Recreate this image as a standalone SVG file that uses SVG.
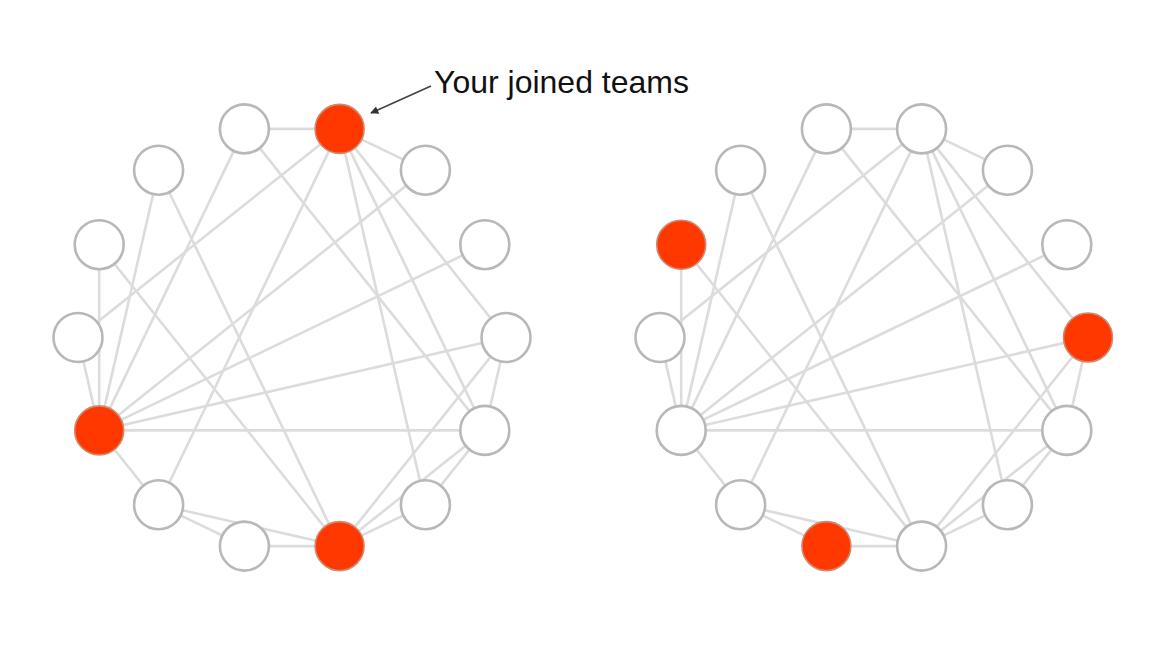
<svg xmlns="http://www.w3.org/2000/svg" width="1170" height="658" viewBox="0 0 1170 658">
<style>
.e{stroke:#dcdcdc;stroke-width:2.6;fill:none}
.n{fill:#ffffff;stroke:#b8b8b8;stroke-width:2.6}
.r{fill:#ff3800;stroke:#cf8a72;stroke-width:1.6}
.lbl{font-family:"Liberation Sans",Arial,sans-serif;font-size:32px;fill:#111}
.arr{stroke:#444;stroke-width:1.7;fill:none}
</style>
<defs>
<marker id="ah" viewBox="0 0 10 10" refX="9" refY="5" markerWidth="9" markerHeight="8" orient="auto" markerUnits="userSpaceOnUse">
<path d="M0,0 L10,5 L0,10 z" fill="#333"/>
</marker>
</defs>
<rect width="1170" height="658" fill="#ffffff"/>
<g id="connectors">
<g id="edges-left">
<line class="e" x1="244.4" y1="128.9" x2="339.6" y2="128.9"/>
<line class="e" x1="339.6" y1="128.9" x2="425.4" y2="170.2"/>
<line class="e" x1="244.4" y1="128.9" x2="99.2" y2="430.4"/>
<line class="e" x1="244.4" y1="128.9" x2="484.8" y2="430.4"/>
<line class="e" x1="339.6" y1="128.9" x2="78" y2="337.5"/>
<line class="e" x1="339.6" y1="128.9" x2="158.6" y2="504.8"/>
<line class="e" x1="339.6" y1="128.9" x2="425.4" y2="504.8"/>
<line class="e" x1="339.6" y1="128.9" x2="484.8" y2="430.4"/>
<line class="e" x1="339.6" y1="128.9" x2="506" y2="337.5"/>
<line class="e" x1="425.4" y1="170.2" x2="99.2" y2="430.4"/>
<line class="e" x1="484.8" y1="244.7" x2="99.2" y2="430.4"/>
<line class="e" x1="506" y1="337.5" x2="99.2" y2="430.4"/>
<line class="e" x1="484.8" y1="430.4" x2="99.2" y2="430.4"/>
<line class="e" x1="506" y1="337.5" x2="484.8" y2="430.4"/>
<line class="e" x1="506" y1="337.5" x2="339.6" y2="546.1"/>
<line class="e" x1="484.8" y1="430.4" x2="425.4" y2="504.8"/>
<line class="e" x1="484.8" y1="430.4" x2="339.6" y2="546.1"/>
<line class="e" x1="425.4" y1="504.8" x2="339.6" y2="546.1"/>
<line class="e" x1="339.6" y1="546.1" x2="244.4" y2="546.1"/>
<line class="e" x1="339.6" y1="546.1" x2="158.6" y2="504.8"/>
<line class="e" x1="339.6" y1="546.1" x2="99.2" y2="244.7"/>
<line class="e" x1="339.6" y1="546.1" x2="158.6" y2="170.2"/>
<line class="e" x1="244.4" y1="546.1" x2="158.6" y2="504.8"/>
<line class="e" x1="158.6" y1="504.8" x2="99.2" y2="430.4"/>
<line class="e" x1="99.2" y1="430.4" x2="78" y2="337.5"/>
<line class="e" x1="99.2" y1="430.4" x2="99.2" y2="244.7"/>
<line class="e" x1="99.2" y1="430.4" x2="158.6" y2="170.2"/>
</g>
<g id="edges-right">
<line class="e" x1="826.4" y1="128.9" x2="921.6" y2="128.9"/>
<line class="e" x1="921.6" y1="128.9" x2="1007.4" y2="170.2"/>
<line class="e" x1="826.4" y1="128.9" x2="681.2" y2="430.4"/>
<line class="e" x1="826.4" y1="128.9" x2="1066.8" y2="430.4"/>
<line class="e" x1="921.6" y1="128.9" x2="660" y2="337.5"/>
<line class="e" x1="921.6" y1="128.9" x2="740.6" y2="504.8"/>
<line class="e" x1="921.6" y1="128.9" x2="1007.4" y2="504.8"/>
<line class="e" x1="921.6" y1="128.9" x2="1066.8" y2="430.4"/>
<line class="e" x1="921.6" y1="128.9" x2="1088" y2="337.5"/>
<line class="e" x1="1007.4" y1="170.2" x2="681.2" y2="430.4"/>
<line class="e" x1="1066.8" y1="244.7" x2="681.2" y2="430.4"/>
<line class="e" x1="1088" y1="337.5" x2="681.2" y2="430.4"/>
<line class="e" x1="1066.8" y1="430.4" x2="681.2" y2="430.4"/>
<line class="e" x1="1088" y1="337.5" x2="1066.8" y2="430.4"/>
<line class="e" x1="1088" y1="337.5" x2="921.6" y2="546.1"/>
<line class="e" x1="1066.8" y1="430.4" x2="1007.4" y2="504.8"/>
<line class="e" x1="1066.8" y1="430.4" x2="921.6" y2="546.1"/>
<line class="e" x1="1007.4" y1="504.8" x2="921.6" y2="546.1"/>
<line class="e" x1="921.6" y1="546.1" x2="826.4" y2="546.1"/>
<line class="e" x1="921.6" y1="546.1" x2="740.6" y2="504.8"/>
<line class="e" x1="921.6" y1="546.1" x2="681.2" y2="244.7"/>
<line class="e" x1="921.6" y1="546.1" x2="740.6" y2="170.2"/>
<line class="e" x1="826.4" y1="546.1" x2="740.6" y2="504.8"/>
<line class="e" x1="740.6" y1="504.8" x2="681.2" y2="430.4"/>
<line class="e" x1="681.2" y1="430.4" x2="660" y2="337.5"/>
<line class="e" x1="681.2" y1="430.4" x2="681.2" y2="244.7"/>
<line class="e" x1="681.2" y1="430.4" x2="740.6" y2="170.2"/>
</g>
<line id="callout-arrow" class="arr" x1="431" y1="86" x2="371" y2="113" marker-end="url(#ah)"/>
</g>
<g id="left-graph">
<g id="L1"><circle class="n" cx="244.4" cy="128.9" r="24.5"/></g>
<g id="L2"><circle class="r" cx="339.6" cy="128.9" r="24.5"/></g>
<g id="L3"><circle class="n" cx="425.4" cy="170.2" r="24.5"/></g>
<g id="L4"><circle class="n" cx="484.8" cy="244.7" r="24.5"/></g>
<g id="L5"><circle class="n" cx="506" cy="337.5" r="24.5"/></g>
<g id="L6"><circle class="n" cx="484.8" cy="430.4" r="24.5"/></g>
<g id="L7"><circle class="n" cx="425.4" cy="504.8" r="24.5"/></g>
<g id="L8"><circle class="r" cx="339.6" cy="546.1" r="24.5"/></g>
<g id="L9"><circle class="n" cx="244.4" cy="546.1" r="24.5"/></g>
<g id="L10"><circle class="n" cx="158.6" cy="504.8" r="24.5"/></g>
<g id="L11"><circle class="r" cx="99.2" cy="430.4" r="24.5"/></g>
<g id="L12"><circle class="n" cx="78" cy="337.5" r="24.5"/></g>
<g id="L13"><circle class="n" cx="99.2" cy="244.7" r="24.5"/></g>
<g id="L14"><circle class="n" cx="158.6" cy="170.2" r="24.5"/></g>
</g>
<g id="right-graph">
<g id="R1"><circle class="n" cx="826.4" cy="128.9" r="24.5"/></g>
<g id="R2"><circle class="n" cx="921.6" cy="128.9" r="24.5"/></g>
<g id="R3"><circle class="n" cx="1007.4" cy="170.2" r="24.5"/></g>
<g id="R4"><circle class="n" cx="1066.8" cy="244.7" r="24.5"/></g>
<g id="R5"><circle class="r" cx="1088" cy="337.5" r="24.5"/></g>
<g id="R6"><circle class="n" cx="1066.8" cy="430.4" r="24.5"/></g>
<g id="R7"><circle class="n" cx="1007.4" cy="504.8" r="24.5"/></g>
<g id="R8"><circle class="n" cx="921.6" cy="546.1" r="24.5"/></g>
<g id="R9"><circle class="r" cx="826.4" cy="546.1" r="24.5"/></g>
<g id="R10"><circle class="n" cx="740.6" cy="504.8" r="24.5"/></g>
<g id="R11"><circle class="n" cx="681.2" cy="430.4" r="24.5"/></g>
<g id="R12"><circle class="n" cx="660" cy="337.5" r="24.5"/></g>
<g id="R13"><circle class="r" cx="681.2" cy="244.7" r="24.5"/></g>
<g id="R14"><circle class="n" cx="740.6" cy="170.2" r="24.5"/></g>
</g>
<g id="callout-label">
<text class="lbl" x="434" y="93">Your joined teams</text>
</g>
</svg>
